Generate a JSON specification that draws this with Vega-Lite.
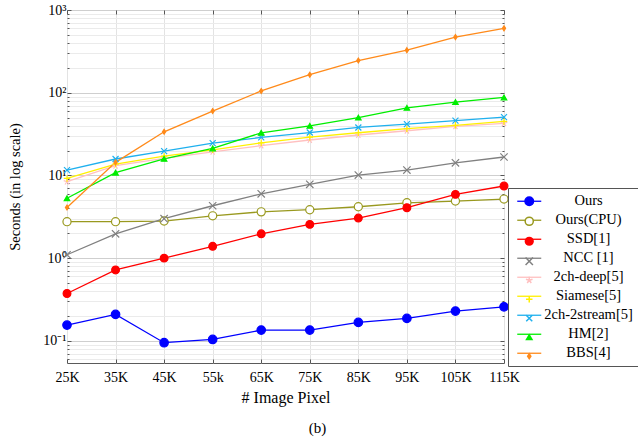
{
  "$schema": "https://vega.github.io/schema/vega-lite/v6.json",
  "width": 437,
  "height": 353,
  "autosize": {"type": "none"},
  "padding": {"left": 67, "top": 10, "right": 134, "bottom": 78},
  "background": "white",
  "config": {
    "font": "Liberation Serif",
    "view": {"stroke": "#5a5a5a", "strokeWidth": 1},
    "axis": {"labelFont": "Liberation Serif", "titleFont": "Liberation Serif", "labelFontSize": 14, "titleFontSize": 16, "titleFontWeight": "normal", "labelColor": "#000", "titleColor": "#000", "labelFlush": false},
    "legend": {"labelFont": "Liberation Serif", "labelFontSize": 14.5, "labelColor": "#000"}
  },
  "title": {"text": "(b)", "orient": "bottom", "anchor": "middle", "frame": "group", "dx": 32, "offset": 16, "fontSize": 15, "font": "Liberation Serif", "fontWeight": "normal", "color": "#000"},
  "data": {"values": [
    {"px": 25, "series": "Ours", "t": 0.155}, {"px": 35, "series": "Ours", "t": 0.209}, {"px": 45, "series": "Ours", "t": 0.095}, {"px": 55, "series": "Ours", "t": 0.104}, {"px": 65, "series": "Ours", "t": 0.135}, {"px": 75, "series": "Ours", "t": 0.135}, {"px": 85, "series": "Ours", "t": 0.167}, {"px": 95, "series": "Ours", "t": 0.187}, {"px": 105, "series": "Ours", "t": 0.229}, {"px": 115, "series": "Ours", "t": 0.258},
    {"px": 25, "series": "Ours(CPU)", "t": 2.76}, {"px": 35, "series": "Ours(CPU)", "t": 2.76}, {"px": 45, "series": "Ours(CPU)", "t": 2.81}, {"px": 55, "series": "Ours(CPU)", "t": 3.25}, {"px": 65, "series": "Ours(CPU)", "t": 3.63}, {"px": 75, "series": "Ours(CPU)", "t": 3.85}, {"px": 85, "series": "Ours(CPU)", "t": 4.18}, {"px": 95, "series": "Ours(CPU)", "t": 4.67}, {"px": 105, "series": "Ours(CPU)", "t": 4.9}, {"px": 115, "series": "Ours(CPU)", "t": 5.18},
    {"px": 25, "series": "SSD[1]", "t": 0.374}, {"px": 35, "series": "SSD[1]", "t": 0.72}, {"px": 45, "series": "SSD[1]", "t": 1.0}, {"px": 55, "series": "SSD[1]", "t": 1.39}, {"px": 65, "series": "SSD[1]", "t": 1.97}, {"px": 75, "series": "SSD[1]", "t": 2.56}, {"px": 85, "series": "SSD[1]", "t": 3.05}, {"px": 95, "series": "SSD[1]", "t": 4.07}, {"px": 105, "series": "SSD[1]", "t": 5.9}, {"px": 115, "series": "SSD[1]", "t": 7.45},
    {"px": 25, "series": "NCC [1]", "t": 1.1}, {"px": 35, "series": "NCC [1]", "t": 1.97}, {"px": 45, "series": "NCC [1]", "t": 3.0}, {"px": 55, "series": "NCC [1]", "t": 4.3}, {"px": 65, "series": "NCC [1]", "t": 6.0}, {"px": 75, "series": "NCC [1]", "t": 7.8}, {"px": 85, "series": "NCC [1]", "t": 10.1}, {"px": 95, "series": "NCC [1]", "t": 11.6}, {"px": 105, "series": "NCC [1]", "t": 14.2}, {"px": 115, "series": "NCC [1]", "t": 16.7},
    {"px": 25, "series": "2ch-deep[5]", "t": 8.4}, {"px": 35, "series": "2ch-deep[5]", "t": 13.1}, {"px": 45, "series": "2ch-deep[5]", "t": 16.1}, {"px": 55, "series": "2ch-deep[5]", "t": 19.3}, {"px": 65, "series": "2ch-deep[5]", "t": 22.9}, {"px": 75, "series": "2ch-deep[5]", "t": 26.8}, {"px": 85, "series": "2ch-deep[5]", "t": 30.8}, {"px": 95, "series": "2ch-deep[5]", "t": 34.7}, {"px": 105, "series": "2ch-deep[5]", "t": 39.2}, {"px": 115, "series": "2ch-deep[5]", "t": 42.6},
    {"px": 25, "series": "Siamese[5]", "t": 9.2}, {"px": 35, "series": "Siamese[5]", "t": 13.7}, {"px": 45, "series": "Siamese[5]", "t": 17.1}, {"px": 55, "series": "Siamese[5]", "t": 20.4}, {"px": 65, "series": "Siamese[5]", "t": 24.8}, {"px": 75, "series": "Siamese[5]", "t": 29.0}, {"px": 85, "series": "Siamese[5]", "t": 32.8}, {"px": 95, "series": "Siamese[5]", "t": 36.7}, {"px": 105, "series": "Siamese[5]", "t": 40.3}, {"px": 115, "series": "Siamese[5]", "t": 45.0},
    {"px": 25, "series": "2ch-2stream[5]", "t": 11.6}, {"px": 35, "series": "2ch-2stream[5]", "t": 15.8}, {"px": 45, "series": "2ch-2stream[5]", "t": 19.7}, {"px": 55, "series": "2ch-2stream[5]", "t": 24.6}, {"px": 65, "series": "2ch-2stream[5]", "t": 28.8}, {"px": 75, "series": "2ch-2stream[5]", "t": 33.0}, {"px": 85, "series": "2ch-2stream[5]", "t": 38.0}, {"px": 95, "series": "2ch-2stream[5]", "t": 41.7}, {"px": 105, "series": "2ch-2stream[5]", "t": 46.0}, {"px": 115, "series": "2ch-2stream[5]", "t": 50.7},
    {"px": 25, "series": "HM[2]", "t": 5.3}, {"px": 35, "series": "HM[2]", "t": 10.8}, {"px": 45, "series": "HM[2]", "t": 15.9}, {"px": 55, "series": "HM[2]", "t": 21.2}, {"px": 65, "series": "HM[2]", "t": 32.8}, {"px": 75, "series": "HM[2]", "t": 39.8}, {"px": 85, "series": "HM[2]", "t": 50.0}, {"px": 95, "series": "HM[2]", "t": 65.7}, {"px": 105, "series": "HM[2]", "t": 77.0}, {"px": 115, "series": "HM[2]", "t": 87.6},
    {"px": 25, "series": "BBS[4]", "t": 4.1}, {"px": 35, "series": "BBS[4]", "t": 14.4}, {"px": 45, "series": "BBS[4]", "t": 33.7}, {"px": 55, "series": "BBS[4]", "t": 60}, {"px": 65, "series": "BBS[4]", "t": 105}, {"px": 75, "series": "BBS[4]", "t": 165}, {"px": 85, "series": "BBS[4]", "t": 245}, {"px": 95, "series": "BBS[4]", "t": 327}, {"px": 105, "series": "BBS[4]", "t": 470}, {"px": 115, "series": "BBS[4]", "t": 600}
  ]},
  "resolve": {"axis": {"x": "independent", "y": "independent"}},
  "layer": [
    {
      "mark": {"type": "line", "strokeWidth": 1.3},
      "encoding": {
        "x": {"field": "px", "type": "quantitative",
          "scale": {"domain": [25, 115], "nice": false, "zero": false},
          "axis": {"orient": "bottom", "values": [25, 35, 45, 55, 65, 75, 85, 95, 105, 115], "labelExpr": "datum.value == 55 ? '55k' : datum.value + 'K'", "title": "# Image Pixel", "titlePadding": 5, "grid": true, "gridColor": "#e3e3e3", "domain": false, "tickSize": -4, "tickColor": "#555", "labelPadding": 11, "labelOverlap": false}},
        "y": {"field": "t", "type": "quantitative",
          "scale": {"type": "log", "domain": [0.054, 1000], "nice": false},
          "axis": {"orient": "left",
            "values": [0.06, 0.07, 0.08, 0.09, 0.1, 0.2, 0.3, 0.4, 0.5, 0.6, 0.7, 0.8, 0.9, 1, 2, 3, 4, 5, 6, 7, 8, 9, 10, 20, 30, 40, 50, 60, 70, 80, 90, 100, 200, 300, 400, 500, 600, 700, 800, 900, 1000],
            "labelExpr": "datum.value == 1000 ? '10³' : datum.value == 100 ? '10²' : datum.value == 10 ? '10¹' : datum.value == 1 ? '10⁰' : datum.value == 0.1 ? '10⁻¹' : ''",
            "title": "Seconds (in log scale)", "titleFontSize": 14.5, "titleX": -52, "titleY": 176.5, "titleBaseline": "middle", "grid": true,
            "gridColor": {"condition": {"test": "indexof([0.1, 1, 10, 100, 1000], datum.value) >= 0", "value": "#cfcfcf"}, "value": "#ebebeb"},
            "tickSize": {"condition": {"test": "indexof([0.1, 1, 10, 100, 1000], datum.value) >= 0", "value": -4}, "value": -2},
            "tickColor": "#555", "domain": false, "labelPadding": 5, "labelOverlap": false}},
        "color": {"field": "series", "type": "nominal",
          "sort": ["Ours", "Ours(CPU)", "SSD[1]", "NCC [1]", "2ch-deep[5]", "Siamese[5]", "2ch-2stream[5]", "HM[2]", "BBS[4]"],
          "scale": {"range": ["#0000ff", "#99991f", "#ff0000", "#808080", "#ffc0c0", "#fff000", "#1fb0ee", "#00ee00", "#ff8a1a"]},
          "legend": {"title": null, "orient": "none", "legendX": 441, "legendY": 178, "symbolType": "M-3,0L3,0", "symbolSize": 64, "symbolStrokeWidth": 1.3, "symbolOffset": 8, "padding": 6, "strokeColor": "#555", "labelAlign": "center", "labelOffset": 52, "rowPadding": 4.0, "labelLimit": 200}}
      }
    },
    {
      "mark": {"type": "point", "strokeWidth": 1.2, "opacity": 1},
      "encoding": {
        "x": {"field": "px", "type": "quantitative",
          "axis": {"orient": "top", "values": [25, 35, 45, 55, 65, 75, 85, 95, 105, 115], "labels": false, "title": null, "grid": false, "domain": false, "tickSize": -4, "tickColor": "#555"}},
        "y": {"field": "t", "type": "quantitative",
          "axis": {"orient": "right",
            "values": [0.06, 0.07, 0.08, 0.09, 0.1, 0.2, 0.3, 0.4, 0.5, 0.6, 0.7, 0.8, 0.9, 1, 2, 3, 4, 5, 6, 7, 8, 9, 10, 20, 30, 40, 50, 60, 70, 80, 90, 100, 200, 300, 400, 500, 600, 700, 800, 900, 1000],
            "labels": false, "title": null, "grid": false, "domain": false,
            "tickSize": {"condition": {"test": "indexof([0.1, 1, 10, 100, 1000], datum.value) >= 0", "value": -4}, "value": -2},
            "tickColor": "#555"}},
        "shape": {"field": "series", "type": "nominal",
          "scale": {"domain": ["Ours", "Ours(CPU)", "SSD[1]", "NCC [1]", "2ch-deep[5]", "Siamese[5]", "2ch-2stream[5]", "HM[2]", "BBS[4]"],
            "range": ["circle", "circle", "circle", "M-1,-1L1,1M1,-1L-1,1", "M0,0L0,-1M0,0L0.951,-0.309M0,0L0.588,0.809M0,0L-0.588,0.809M0,0L-0.951,-0.309", "M-1,0L1,0M0,-1L0,1", "M-1,-1L1,1M1,-1L-1,1", "triangle-up", "M0,-1L0.65,0L0,1L-0.65,0Z"]},
          "legend": {"title": null, "orient": "none", "legendX": 441, "legendY": 178, "symbolOffset": 8, "padding": 6, "labelOpacity": 0, "labelExpr": "'\u00a0'", "labelAlign": "left", "labelOffset": 2, "rowPadding": 4.0, "labelLimit": 200}},
        "fill": {"field": "series", "type": "nominal",
          "scale": {"domain": ["Ours", "Ours(CPU)", "SSD[1]", "NCC [1]", "2ch-deep[5]", "Siamese[5]", "2ch-2stream[5]", "HM[2]", "BBS[4]"],
            "range": ["#0000ff", "#ffffff", "#ff0000", "transparent", "transparent", "transparent", "transparent", "#00ee00", "#ff8a1a"]}},
        "stroke": {"field": "series", "type": "nominal",
          "scale": {"domain": ["Ours", "Ours(CPU)", "SSD[1]", "NCC [1]", "2ch-deep[5]", "Siamese[5]", "2ch-2stream[5]", "HM[2]", "BBS[4]"],
            "range": ["#0000ff", "#99991f", "#ff0000", "#808080", "#ffc0c0", "#fff000", "#1fb0ee", "#00ee00", "#ff8a1a"]}},
        "size": {"field": "series", "type": "nominal",
          "scale": {"domain": ["Ours", "Ours(CPU)", "SSD[1]", "NCC [1]", "2ch-deep[5]", "Siamese[5]", "2ch-2stream[5]", "HM[2]", "BBS[4]"],
            "range": [72, 24, 72, 22, 36, 40, 26, 60, 64]}}
      }
    }
  ]
}
